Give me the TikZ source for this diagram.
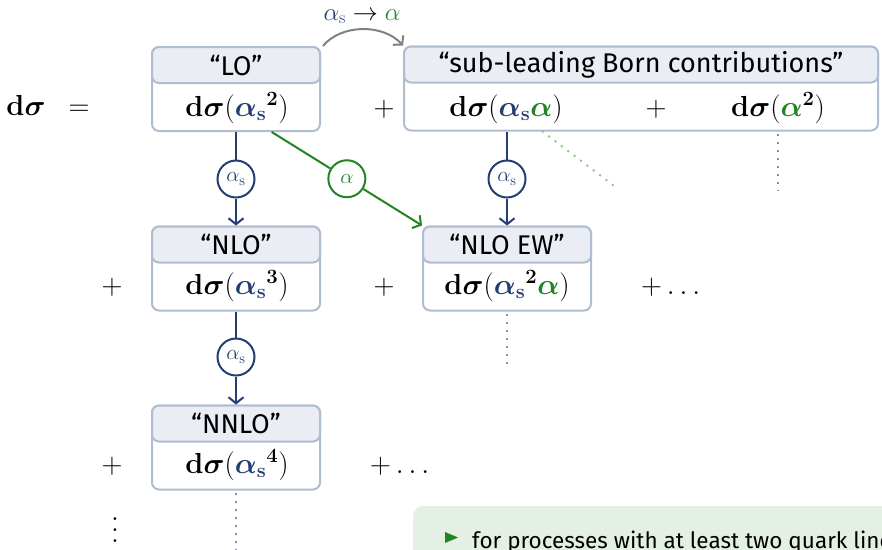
\RequirePackage{fix-cm}
\documentclass[tikz,border=0pt]{standalone}
\usepackage{amsmath}
\usepackage{bm}
\usepackage[no-math]{fontspec}
\setmainfont{Fira Sans}
\usetikzlibrary{arrows.meta,calc}

\definecolor{qcdblue}{RGB}{35,62,112}
\definecolor{ewgreen}{RGB}{34,132,34}
\definecolor{boxline}{RGB}{176,188,208}
\definecolor{headfill}{RGB}{234,238,244}
\definecolor{notefill}{RGB}{228,240,228}
\definecolor{dotgray}{RGB}{130,145,170}
\definecolor{dotgreen}{RGB}{140,200,140}
\definecolor{bendgray}{RGB}{128,128,128}

% bold cross-section notation
\newcommand{\dsig}{\mathbf{d}\bm{\sigma}}
\newcommand{\aS}{{\color{qcdblue}\bm{\alpha}_{\mathbf{s}}}}
\newcommand{\aE}{{\color{ewgreen}\bm{\alpha}}}
\newcommand{\sq}{^{\mathbf{2}}}
% tall vertical dots with wide spacing
\newcommand{\tallvdots}{\vbox{\baselineskip=11pt\lineskiplimit=0pt\hbox{$.$}\hbox{$.$}\hbox{$.$}}}

\tikzset{
  bodybox/.style={draw=boxline, line width=2pt, fill=white, rounded corners=7pt,
    minimum width=168pt, minimum height=84pt, inner sep=0pt},
  headbox/.style={draw=boxline, line width=2pt, fill=headfill, rounded corners=7pt,
    minimum height=36pt, inner sep=0pt, font=\fontsize{27}{30}\selectfont},
  mathtxt/.style={inner sep=0pt, anchor=base, font=\fontsize{29}{34}\selectfont},
  coupling/.style={circle, draw=qcdblue, line width=2pt, fill=white, minimum size=37pt,
    inner sep=0pt, text=qcdblue, font=\fontsize{21}{24}\selectfont},
  ewcoupling/.style={coupling, draw=ewgreen, text=ewgreen},
  qcdline/.style={draw=qcdblue, line width=2pt},
  qcdarrow/.style={qcdline, -{Straight Barb[length=6pt,width=15pt,line width=2pt]}},
  ewarrow/.style={draw=ewgreen, line width=2pt, -{Straight Barb[length=6pt,width=15pt,line width=2pt]}},
  dotline/.style={draw=dotgray, line width=2pt, dash pattern=on 2pt off 6pt},
  dotgreenline/.style={draw=dotgreen, line width=2pt, dash pattern=on 2pt off 6pt},
}

\begin{document}
\begin{tikzpicture}[x=1pt,y=-1pt]
\useasboundingbox (0,0) rectangle (882,549);

% left-hand side
\node[mathtxt] (lhs) at (26,115) {$\dsig$};
\node[mathtxt] (eq) at (79,115) {$=$};

% LO box
\node[bodybox] (LObox) at (236,89) {};
\node[headbox, minimum width=168pt, anchor=north] (LOhead) at (LObox.north) {“LO”};
\node[mathtxt] (LOmath) at (237,116) {$\dsig(\aS\sq)$};

\node[mathtxt] (p1) at (384,116) {$+$};

% sub-leading Born box
\node[bodybox, minimum width=474pt] (SUBbox) at (641,88.5) {};
\node[headbox, minimum width=474pt, anchor=north] (SUBhead) at (SUBbox.north) {“sub-leading Born contributions”};
\node[mathtxt] (SUBmathA) at (506,116) {$\dsig(\aS\aE)$};
\node[mathtxt] (p2) at (656,116) {$+$};
\node[mathtxt] (SUBmathB) at (778,116) {$\dsig({\aE}\sq)$};

% NLO box
\node[bodybox] (NLObox) at (236,268.5) {};
\node[headbox, minimum width=168pt, anchor=north] (NLOhead) at (NLObox.north) {“NLO”};
\node[mathtxt] (NLOmath) at (237,294) {$\dsig(\aS^{\mathbf{3}})$};

% NLO EW box
\node[bodybox] (EWbox) at (507,268.5) {};
\node[headbox, minimum width=168pt, anchor=north] (EWhead) at (EWbox.north) {“NLO EW”};
\node[mathtxt] (EWmath) at (507,294) {$\dsig(\aS\sq\aE)$};

\node[mathtxt] (p3) at (112,294) {$+$};
\node[mathtxt] (p4) at (384,294) {$+$};
\node[mathtxt, anchor=base west] (p5) at (641,294) {$+\dots$};

% NNLO box
\node[bodybox] (NNLObox) at (236,447.5) {};
\node[headbox, minimum width=168pt, anchor=north] (NNLOhead) at (NNLObox.north) {“NNLO”};
\node[mathtxt] (NNLOmath) at (237,473) {$\dsig(\aS^{\mathbf{4}})$};

\node[mathtxt] (p6) at (112,473) {$+$};
\node[mathtxt, anchor=base west] (p7) at (370,473) {$+\dots$};
\node[mathtxt, anchor=center] (vd) at (115,530) {\tallvdots};

% coupling insertions
\node[coupling] (c1) at (236,179) {$\alpha_\mathrm{s}$};
\node[coupling] (c2) at (507,179) {$\alpha_\mathrm{s}$};
\node[coupling] (c3) at (236,357) {$\alpha_\mathrm{s}$};
\coordinate (ewstart) at ($(LObox.south)!0.42!(LObox.south east)$);
\node[ewcoupling] (c4) at ($(ewstart)!0.5!(EWbox.north west)$) {$\alpha$};

\draw[qcdline] (LObox.south) -- (c1.north);
\draw[qcdarrow] (c1.south) -- (NLObox.north);
\draw[qcdline] (c2.north |- SUBbox.south) -- (c2.north);
\draw[qcdarrow] (c2.south) -- (EWbox.north);
\draw[qcdline] (NLObox.south) -- (c3.north);
\draw[qcdarrow] (c3.south) -- (NNLObox.north);
\draw[draw=ewgreen, line width=2pt] (ewstart) -- (c4);
\draw[ewarrow] (c4) -- (EWbox.north west);

% coupling swap above the boxes
\node[inner sep=0pt, anchor=base, font=\fontsize{25}{28}\selectfont] (swap) at (362,20)
  {${\color{qcdblue}\alpha_\mathrm{s}}\to{\color{ewgreen}\alpha}$};
\draw[draw=bendgray, line width=2pt, -{Straight Barb[length=6pt,width=14pt,line width=2pt]}]
  (LObox.north east) ++(2,0) .. controls +(18,-22) and +(-20,-22) .. (SUBbox.north west);

% open continuations
\coordinate (greenend) at (618,189);
\coordinate (grayend) at (778,190);
\coordinate (ewend) at (507,368);
\coordinate (nnloend) at (236,552);
\draw[dotgreenline] (542,131) -- (greenend);
\draw[dotline] (SUBmathB |- SUBbox.south) ++(0,2) -- (grayend);
\draw[dotline] (EWbox.south) ++(0,2) -- (ewend);
\draw[dotline] (NNLObox.south) ++(0,2) -- (nnloend);

% note block at the bottom
\fill[notefill, rounded corners=10pt] (413,506) rectangle (920,600);
\fill[ewgreen] (445,532) -- (458,537.5) -- (445,543) -- cycle;
\node[inner sep=0pt, anchor=base west, font=\fontsize{22.5}{26}\selectfont] (note) at (472,548)
  {for processes with at least two quark line};
\end{tikzpicture}
\end{document}
